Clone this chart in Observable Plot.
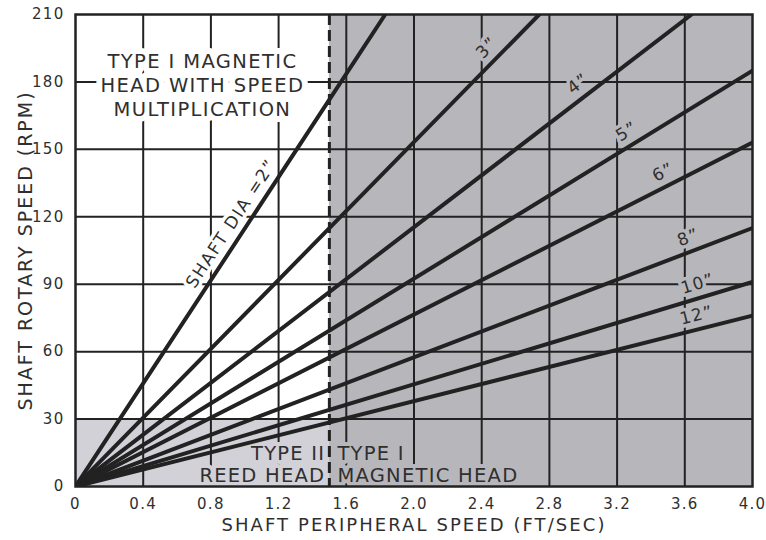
<!DOCTYPE html>
<html>
<head>
<meta charset="utf-8">
<script src="https://cdn.jsdelivr.net/npm/d3@7"></script>
<script src="https://cdn.jsdelivr.net/npm/@observablehq/plot@0.6"></script>
<style>
  html, body { margin: 0; padding: 0; background: #fff; }
</style>
</head>
<body>
<div id="chart"></div>
<script>
// ---- data ----
const diameterLabels = ["SHAFT DIA =2\u201d", "3\u201d", "4\u201d", "5\u201d", "6\u201d", "8\u201d", "10\u201d", "12\u201d"];
const endSpeed = [1.83, 2.74, 3.64, 4.0, 4.0, 4.0, 4.0, 4.0];   // ft/sec where each line leaves the chart
const endRpm   = [210, 210, 210, 185, 153, 115, 91, 76];           // rpm at that point
const labelAtSpeed = [0.99, 2.49, 3.02, 3.30, 3.51, 3.65, 3.70, 3.69];
const xTicks = [0, 0.4, 0.8, 1.2, 1.6, 2.0, 2.4, 2.8, 3.2, 3.6, 4.0];
const xTickLabels = ["0", "0.4", "0.8", "1.2", "1.6", "2.0", "2.4", "2.8", "3.2", "3.6", "4.0"];
const yTicks = [0, 30, 60, 90, 120, 150, 180, 210];
const typeILimitSpeed = 1.5;   // ft/sec boundary (dashed)
const typeIILimitRpm = 30;     // rpm boundary for reed head
const xMax = 4.0, yMax = 210;
const yTitle = "SHAFT ROTARY SPEED (RPM)";
const xTitle = "SHAFT PERIPHERAL SPEED (FT/SEC)";
const noteTop = "TYPE I MAGNETIC\nHEAD WITH SPEED\nMULTIPLICATION";
const noteReed = "TYPE II\nREED HEAD";
const noteMag = "TYPE I\nMAGNETIC HEAD";

// ---- layout ----
const W = 766, H = 540;
const M = {top: 14, right: 14, bottom: 54, left: 75};
const innerW = W - M.left - M.right, innerH = H - M.top - M.bottom;
const ink = "#222", textInk = "#2f2f2f";
const darkGray = "#b7b7bb", lightGray = "#d3d1d8";

const lines = diameterLabels.map((d, i) => ({d, x1: 0, y1: 0, x2: endSpeed[i], y2: endRpm[i]}));

const labelMarks = diameterLabels.map((txt, i) => {
  const slope = endRpm[i] / endSpeed[i];
  const theta = Math.atan(slope * (innerH / yMax) / (innerW / xMax));
  const off = 14;
  const lx = labelAtSpeed[i];
  return Plot.text([{x: lx, y: slope * lx, t: txt}], {
    x: "x", y: "y", text: "t",
    rotate: -theta * 180 / Math.PI,
    dx: -off * Math.sin(theta), dy: -off * Math.cos(theta),
    fontSize: 17,
    fill: textInk,
    stroke: i === 0 ? "white" : darkGray, strokeWidth: 7, paintOrder: "stroke",
    textAnchor: "middle", lineAnchor: "middle"
  });
});

const chart = Plot.plot({
  width: W, height: H,
  marginTop: M.top, marginRight: M.right, marginBottom: M.bottom, marginLeft: M.left,
  style: {fontFamily: "DejaVu Sans", fontSize: "15px", background: "white", color: textInk},
  x: {domain: [0, xMax], type: "linear"},
  y: {domain: [0, yMax], type: "linear"},
  marks: [
    Plot.rect([{x1: typeILimitSpeed, x2: xMax, y1: 0, y2: yMax}], {x1: "x1", x2: "x2", y1: "y1", y2: "y2", fill: darkGray}),
    Plot.rect([{x1: 0, x2: typeILimitSpeed, y1: 0, y2: typeIILimitRpm}], {x1: "x1", x2: "x2", y1: "y1", y2: "y2", fill: lightGray}),
    Plot.ruleX(xTicks.filter(v => v > 0 && v < xMax), {stroke: ink, strokeWidth: 2}),
    Plot.ruleY(yTicks.filter(v => v > 0 && v < yMax), {stroke: ink, strokeWidth: 2}),
    Plot.axisX({ticks: xTicks, tickFormat: d => xTickLabels[xTicks.indexOf(d)], tickSize: 0, tickPadding: 12, label: null, fontSize: 15}),
    Plot.axisY({ticks: yTicks, tickSize: 0, tickPadding: 11, label: null, fontSize: 15}),
    Plot.text([yTitle], {frameAnchor: "left", dx: -50, rotate: -90, fontSize: 19, fill: textInk, textAnchor: "middle", lineAnchor: "middle"}),
    Plot.text([xTitle], {frameAnchor: "bottom", dy: 39, fontSize: 18, fill: textInk, textAnchor: "middle", lineAnchor: "middle"}),
    Plot.text([noteTop], {
      x: 0.75, y: 179, fontSize: 19.5, lineHeight: 1.23, fill: textInk,
      stroke: "white", strokeWidth: 12, paintOrder: "stroke", textAnchor: "middle", lineAnchor: "middle"
    }),
    Plot.text([noteReed], {
      x: typeILimitSpeed, y: 10, dx: -4, fontSize: 19.5, lineHeight: 1.13, fill: textInk,
      stroke: lightGray, strokeWidth: 8, paintOrder: "stroke", textAnchor: "end", lineAnchor: "middle"
    }),
    Plot.text([noteMag], {
      x: typeILimitSpeed, y: 10, dx: 8, fontSize: 19.5, lineHeight: 1.13, fill: textInk,
      stroke: darkGray, strokeWidth: 8, paintOrder: "stroke", textAnchor: "start", lineAnchor: "middle"
    }),
    ...labelMarks,
    Plot.link(lines, {x1: "x1", y1: "y1", x2: "x2", y2: "y2", stroke: ink, strokeWidth: 4, strokeLinecap: "round", clip: true}),
    Plot.ruleX([typeILimitSpeed], {stroke: ink, strokeWidth: 3, strokeDasharray: "11,5"}),
    Plot.frame({stroke: ink, strokeWidth: 2.5})
  ]
});
document.getElementById("chart").appendChild(chart);

// widen lettering to mimic the original's wide type
const allTexts = Array.from(chart.querySelectorAll("text"));
const byContent = s => allTexts.find(t => t.textContent === s.replace(/\n/g, ""));
function fit(el, lineIndex, target) {
  if (!el) return;
  const spans = el.querySelectorAll("tspan");
  const node = spans.length ? spans[lineIndex] : el;
  const n = node.textContent.length;
  const L = node.getComputedTextLength();
  const s = Math.max(0, (target - L) / n);
  el.style.letterSpacing = s.toFixed(2) + "px";
}
fit(byContent(yTitle), 0, 320);
fit(byContent(xTitle), 0, 385);
fit(byContent(noteTop), 0, 190);
fit(byContent(noteReed), 1, 126);
fit(byContent(noteMag), 1, 181);
fit(byContent(diameterLabels[0]), 0, 150);
diameterLabels.slice(1).forEach(d => { const el = byContent(d); if (el) el.style.letterSpacing = "1.2px"; });
chart.querySelectorAll('g[aria-label="x-axis tick label"] text, g[aria-label="y-axis tick label"] text')
  .forEach(t => t.style.letterSpacing = "1.3px");
</script>
</body>
</html>
